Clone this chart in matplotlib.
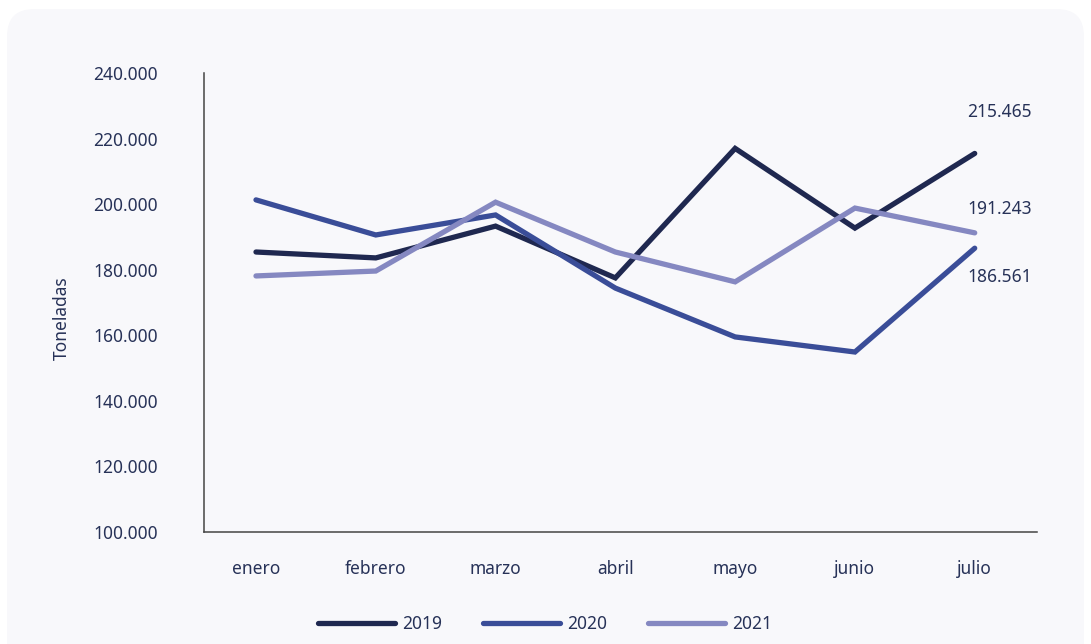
import matplotlib
matplotlib.use("Agg")
import matplotlib.pyplot as plt
from matplotlib.patches import FancyBboxPatch
from matplotlib.ticker import FuncFormatter

months = ["enero", "febrero", "marzo", "abril", "mayo", "junio", "julio"]
s2019 = [185400, 183600, 193300, 177500, 217000, 192700, 215465]
s2020 = [201300, 190600, 196700, 174400, 159500, 154900, 186561]
s2021 = [178100, 179600, 200600, 185400, 176300, 198800, 191243]
years = ["2019", "2020", "2021"]
colors = ["#1f2850", "#3a4d98", "#8588c1"]
text_color = "#273258"

plt.rcParams['font.family'] = ['Noto Sans', 'DejaVu Sans']

W, H = 1091, 644
fig = plt.figure(figsize=(10.91, 6.44), dpi=100)
fig.patch.set_facecolor("white")
bg = FancyBboxPatch((7/W, -0.05), 1 - 14/W, 1.05 - 9/H,
                    boxstyle="round,pad=0,rounding_size=0.025",
                    transform=fig.transFigure, facecolor="#f8f8fb",
                    edgecolor="none", zorder=-5, mutation_aspect=W/H)
fig.patches.append(bg)

ax = fig.add_axes([204/W, 1 - 532/H, (1037-204)/W, (532-73)/H])
ax.set_facecolor("none")
ax.set_zorder(2)

x = list(range(len(months)))
for vals, c, lab in zip([s2019, s2020, s2021], colors, years):
    ax.plot(x, vals, color=c, lw=3.8, label=lab, solid_capstyle="round",
            solid_joinstyle="miter")

ax.set_xlim(-0.434, 6.52)
ax.set_ylim(100000, 240000)
ax.set_yticks(range(100000, 240001, 20000))
ax.yaxis.set_major_formatter(FuncFormatter(lambda v, p: f"{int(v):,}".replace(",", ".")))
ax.set_xticks(x)
ax.set_xticklabels(months)
for s in ["top", "right"]:
    ax.spines[s].set_visible(False)
for s in ["left", "bottom"]:
    ax.spines[s].set_color("#444444")
    ax.spines[s].set_linewidth(1.1)
ax.tick_params(axis="both", length=0, labelsize=12.5, colors=text_color)
ax.tick_params(axis="y", pad=33)
ax.tick_params(axis="x", pad=20)
fig.text(62/W, 1 - 318/H, "Toneladas", rotation=90, ha="center", va="center",
         fontsize=12.5, color=text_color)

fmt = lambda v: f"{v:,}".replace(",", ".")
ax.annotate(fmt(s2019[-1]), (6, s2019[-1]), xytext=(18, 29.5), textcoords="offset points",
            ha="center", va="center", fontsize=12.5, color=text_color)
ax.annotate(fmt(s2021[-1]), (6, s2021[-1]), xytext=(18, 17), textcoords="offset points",
            ha="center", va="center", fontsize=12.5, color=text_color)
ax.annotate(fmt(s2020[-1]), (6, s2020[-1]), xytext=(18, -21), textcoords="offset points",
            ha="center", va="center", fontsize=12.5, color=text_color)

leg = fig.legend(loc="center", bbox_to_anchor=(545/W, 1 - 624/H), ncol=3, frameon=False,
                 fontsize=12.5, handlelength=4.4, columnspacing=2.4, handletextpad=0.4)
for t in leg.get_texts():
    t.set_color(text_color)

fig.savefig("out.png", dpi=100, facecolor=fig.get_facecolor())
